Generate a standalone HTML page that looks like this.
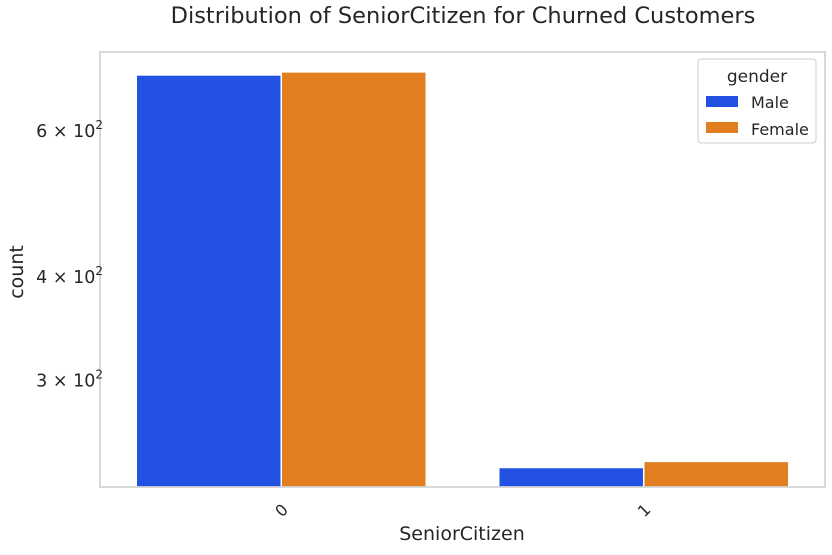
<!DOCTYPE html>
<html><head><meta charset="utf-8"><style>
body{margin:0;background:#fff;font-family:"Liberation Sans","DejaVu Sans",sans-serif;}
</style></head><body>
<svg width="832" height="550" xmlns="http://www.w3.org/2000/svg" font-family="DejaVu Sans, Liberation Sans, sans-serif">
<text x="463" y="23" text-anchor="middle" font-size="22.5" fill="#262626">Distribution of SeniorCitizen for Churned Customers</text>
<g id="bars"></g>
<rect x="100" y="52" width="725" height="435" fill="none" stroke="#cccccc" stroke-width="1.5"/>
<g id="yticks"></g>
<g id="xticks"></g>
<text x="462" y="540" text-anchor="middle" font-size="19" fill="#262626">SeniorCitizen</text>
<text transform="translate(23,272) rotate(-90)" text-anchor="middle" font-size="19" fill="#262626">count</text>
<g>
<rect x="698" y="59" width="118" height="84" rx="3" fill="#fff" stroke="#cccccc"/>
<text x="757" y="82" text-anchor="middle" font-size="17" fill="#262626">gender</text>
<rect x="706" y="96" width="32" height="11" fill="#2351e2"/>
<text x="751" y="108" font-size="16" fill="#262626">Male</text>
<rect x="706" y="122" width="32" height="11" fill="#e07e20"/>
<text x="751" y="135" font-size="16" fill="#262626">Female</text>
</g>
</svg>
<script>
const categories = ["0", "1"];
const maleValues = [699, 235];
const femaleValues = [705, 239];
const yTickValues = [300, 400, 600];
const yTickLabels = ["3 × 10", "4 × 10", "6 × 10"];

const NS = "http://www.w3.org/2000/svg";
const plotLeft = 100, plotRight = 825, plotTop = 52, plotBottom = 487;
const yMin = 222.6, yMax = 745;
function yScale(v){ return plotBottom - (Math.log10(v) - Math.log10(yMin)) / (Math.log10(yMax) - Math.log10(yMin)) * (plotBottom - plotTop); }
const band = (plotRight - plotLeft) / categories.length;
function xc(i){ return plotLeft + band * (i + 0.5); }
const barW = band * 0.8 / 2;

const bars = document.getElementById('bars');
function bar(x, v, color, name){
  const r = document.createElementNS(NS, 'rect');
  r.setAttribute('x', x); r.setAttribute('y', yScale(v));
  r.setAttribute('width', barW); r.setAttribute('height', plotBottom - yScale(v));
  r.setAttribute('fill', color); r.setAttribute('stroke', '#fff'); r.setAttribute('stroke-width', '1.5');
  
  
  bars.appendChild(r);
}
categories.forEach((c, i) => {
  bar(xc(i) - barW, maleValues[i], '#2351e2', 'bar-male-' + c);
  bar(xc(i), femaleValues[i], '#e07e20', 'bar-female-' + c);
});

const yt = document.getElementById('yticks');
yTickValues.forEach((v, i) => {
  const t = document.createElementNS(NS, 'text');
  t.setAttribute('x', 103); t.setAttribute('y', yScale(v) + 7);
  t.setAttribute('text-anchor', 'end'); t.setAttribute('font-size', '17.5'); t.setAttribute('fill', '#262626');
  
  
  t.textContent = yTickLabels[i];
  const s = document.createElementNS(NS, 'tspan');
  s.setAttribute('font-size', '12'); s.setAttribute('dy', '-8');
  s.textContent = '2';
  t.appendChild(s);
  yt.appendChild(t);
});

const xt = document.getElementById('xticks');
categories.forEach((c, i) => {
  const t = document.createElementNS(NS, 'text');
  const cx = xc(i), cy = 516;
  t.setAttribute('x', cx); t.setAttribute('y', cy);
  t.setAttribute('text-anchor', 'middle'); t.setAttribute('font-size', '16'); t.setAttribute('fill', '#262626');
  t.setAttribute('transform', 'rotate(-45 ' + cx + ' ' + (cy - 6) + ')');
  
  
  t.textContent = c;
  xt.appendChild(t);
});
</script>
</body></html>
